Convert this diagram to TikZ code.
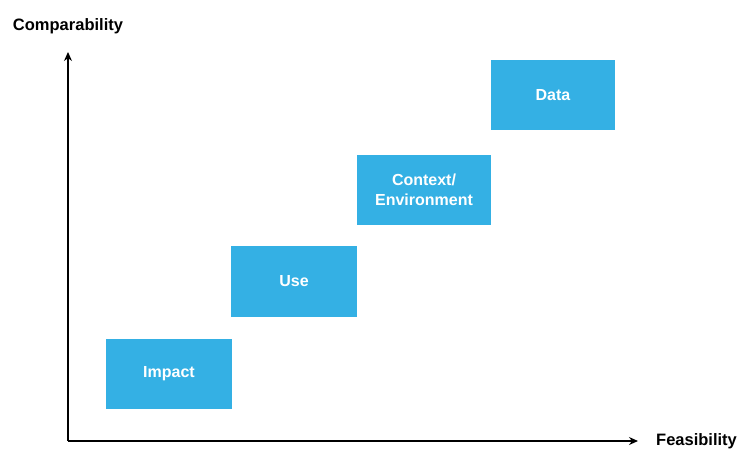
\documentclass[tikz,border=0pt]{standalone}
\usepackage{fontspec}
\setmainfont{Liberation Sans}
\usetikzlibrary{arrows.meta}
\definecolor{boxblue}{RGB}{52,176,228}
\begin{document}
\begin{tikzpicture}[x=1pt,y=-1pt]
        \tikzstyle{level}=[rectangle,fill=boxblue,text=white,font=\bfseries\fontsize{16}{20}\selectfont,align=center,minimum height=70pt,inner sep=0pt]
        \tikzstyle{axis}=[draw,line width=1.3pt,-{Stealth[length=9pt,width=8pt]}]
        \tikzstyle{axislabel}=[font=\bfseries\fontsize{16.5}{18}\selectfont,inner sep=0pt]
        \useasboundingbox (0,0) rectangle (739,451);
       \begin{scope}
         \coordinate (o) at (68,441);
         \coordinate (ytop) at (68,52);
         \coordinate (xend) at (638,441);
         \path[axis] (o) -- (ytop);
         \path[axis] (o) -- (xend);
         \node [axislabel] (comp) at (68,26) {Comparability};
         \node [axislabel,anchor=west] (feas) at (656,441) {Feasibility};
         \node [level,minimum width=126pt] (impact) at (169,374) {Impact};
         \node [level,minimum width=126pt,minimum height=71pt] (use) at (294,281.5) {Use};
         \node [level,minimum width=134pt] (context) at (424,190) {Context/\\Environment};
         \node [level,minimum width=124pt] (data) at (553,95) {Data};
        \end{scope}
      \end{tikzpicture}
\end{document}
